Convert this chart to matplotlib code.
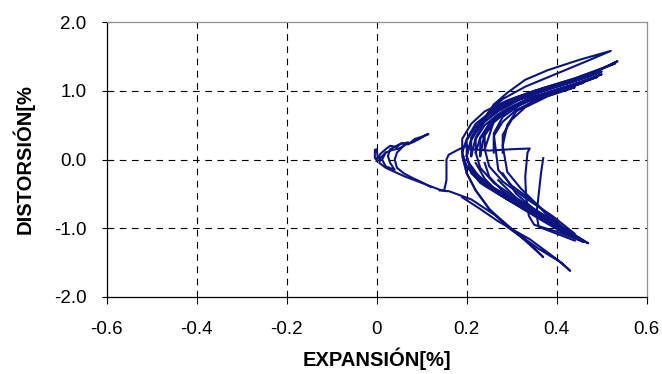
import matplotlib.pyplot as plt

# ciclos pequeños cerca del origen
s1_x = [0.0, -0.004, -0.004, 0.0, 0.002, 0.0]
s1_y = [0.0, 0.02, 0.14, 0.15, 0.05, -0.02]
s2_x = [0.0, 0.008, 0.02, 0.03, 0.045, 0.055, 0.07, 0.085, 0.10, 0.115, 0.11, 0.095, 0.08, 0.065, 0.05,
        0.035, 0.02, 0.008, 0.006, 0.02, 0.04, 0.06, 0.08, 0.10, 0.12, 0.14, 0.155]
s2_y = [-0.02, 0.08, 0.15, 0.20, 0.18, 0.24, 0.22, 0.30, 0.33, 0.37, 0.36, 0.30, 0.25, 0.22, 0.16,
        0.14, 0.10, 0.02, -0.05, -0.12, -0.18, -0.24, -0.29, -0.34, -0.39, -0.44, -0.46]
s3_x = [0.02, 0.012, 0.02, 0.04, 0.03, 0.025, 0.03, 0.05, 0.07, 0.06, 0.045, 0.04, 0.045, 0.06, 0.08,
        0.10, 0.12]
s3_y = [0.10, 0.0, -0.10, -0.15, -0.05, 0.05, 0.15, 0.22, 0.25, 0.20, 0.10, 0.0, -0.12, -0.20, -0.27,
        -0.33, -0.40]
s4_x = [0.15, 0.155, 0.155, 0.16, 0.18, 0.20]
s4_y = [-0.45, -0.30, 0.0, 0.07, 0.14, 0.20]

# ciclos grandes
c1_x = [0.22, 0.24, 0.26, 0.29, 0.33, 0.38, 0.45, 0.52, 0.47, 0.40, 0.33, 0.28, 0.25, 0.23, 0.21, 0.20,
        0.21, 0.24, 0.30, 0.36, 0.41, 0.46, 0.42, 0.36, 0.29, 0.24, 0.21]
c1_y = [0.40, 0.60, 0.80, 0.97, 1.16, 1.30, 1.45, 1.58, 1.44, 1.25, 1.06, 0.88, 0.70, 0.50, 0.30, 0.05,
        -0.20, -0.38, -0.62, -0.86, -1.05, -1.20, -1.06, -0.84, -0.58, -0.35, -0.10]
c2_x = [0.19, 0.19, 0.21, 0.24, 0.29, 0.35, 0.42, 0.48, 0.535, 0.50, 0.44, 0.37, 0.31, 0.26, 0.22, 0.20,
        0.19, 0.20, 0.23, 0.29, 0.35, 0.41, 0.47, 0.43, 0.36, 0.29, 0.23, 0.20]
c2_y = [0.10, 0.30, 0.52, 0.70, 0.86, 1.00, 1.12, 1.26, 1.43, 1.32, 1.18, 1.04, 0.90, 0.73, 0.52, 0.30,
        0.10, -0.10, -0.30, -0.52, -0.76, -0.98, -1.22, -1.08, -0.82, -0.58, -0.34, -0.10]
c3_x = [0.20, 0.20, 0.22, 0.25, 0.30, 0.36, 0.43, 0.50, 0.46, 0.39, 0.32, 0.27, 0.23, 0.21, 0.20, 0.21,
        0.24, 0.30, 0.37, 0.46, 0.41, 0.34, 0.27, 0.23, 0.21]
c3_y = [0.05, 0.28, 0.48, 0.66, 0.83, 0.98, 1.12, 1.28, 1.18, 1.04, 0.88, 0.70, 0.50, 0.28, 0.05, -0.15,
        -0.36, -0.58, -0.84, -1.18, -1.02, -0.76, -0.50, -0.30, -0.10]
c4_x = [0.22, 0.22, 0.24, 0.27, 0.32, 0.38, 0.44, 0.49, 0.45, 0.39, 0.33, 0.28, 0.25, 0.23, 0.22, 0.23,
        0.26, 0.31, 0.38, 0.45, 0.40, 0.33, 0.27, 0.24, 0.22]
c4_y = [0.10, 0.30, 0.50, 0.66, 0.82, 0.96, 1.08, 1.20, 1.12, 1.00, 0.86, 0.70, 0.52, 0.32, 0.10, -0.12,
        -0.34, -0.56, -0.84, -1.14, -0.98, -0.72, -0.48, -0.28, -0.05]
c5_x = [0.24, 0.24, 0.26, 0.29, 0.34, 0.40, 0.45, 0.50, 0.46, 0.40, 0.34, 0.29, 0.26, 0.25, 0.24, 0.25,
        0.28, 0.33, 0.39, 0.44, 0.39, 0.33, 0.28, 0.25, 0.24]
c5_y = [0.15, 0.35, 0.54, 0.70, 0.86, 1.00, 1.12, 1.24, 1.14, 1.02, 0.90, 0.74, 0.55, 0.35, 0.15, -0.10,
        -0.32, -0.56, -0.82, -1.08, -0.92, -0.68, -0.46, -0.25, -0.05]
c6_x = [0.26, 0.26, 0.28, 0.31, 0.36, 0.41, 0.46, 0.42, 0.37, 0.32, 0.28, 0.26, 0.27, 0.30, 0.35, 0.42,
        0.37, 0.31, 0.27]
c6_y = [0.10, 0.34, 0.55, 0.72, 0.88, 1.00, 1.12, 1.04, 0.94, 0.80, 0.62, 0.38, -0.15, -0.38, -0.62, -1.02,
        -0.84, -0.56, -0.30]
c7_x = [0.28, 0.28, 0.30, 0.33, 0.38, 0.44, 0.40, 0.35, 0.31, 0.29, 0.28, 0.29, 0.32, 0.36, 0.40, 0.36,
        0.31, 0.28]
c7_y = [0.10, 0.36, 0.58, 0.76, 0.92, 1.05, 0.98, 0.86, 0.70, 0.50, 0.20, -0.18, -0.42, -0.68, -0.96, -0.78,
        -0.50, -0.20]
c8_x = [0.21, 0.25, 0.30, 0.34, 0.335, 0.33, 0.332, 0.338, 0.35, 0.40, 0.46, 0.40, 0.33, 0.26, 0.22, 0.20]
c8_y = [0.15, 0.13, 0.15, 0.16, 0.10, -0.25, -0.55, -0.82, -0.95, -1.05, -1.20, -1.00, -0.72, -0.42, -0.20, 0.0]
c9_x = [0.37, 0.365, 0.36, 0.355, 0.36, 0.40, 0.44]
c9_y = [0.02, -0.20, -0.50, -0.80, -0.98, -1.08, -1.18]
c10_x = [0.14, 0.16, 0.21, 0.27, 0.32, 0.37, 0.34, 0.29, 0.25, 0.22, 0.20, 0.19]
c10_y = [-0.45, -0.46, -0.58, -0.84, -1.12, -1.42, -1.22, -0.98, -0.72, -0.45, -0.20, 0.10]
c11_x = [0.19, 0.23, 0.27, 0.34, 0.40, 0.43, 0.41, 0.36, 0.30, 0.25, 0.22, 0.20, 0.19]
c11_y = [-0.55, -0.72, -0.90, -1.16, -1.45, -1.62, -1.50, -1.30, -1.02, -0.72, -0.45, -0.20, 0.05]
c12_x = [0.21, 0.21, 0.23, 0.26, 0.31, 0.37, 0.44, 0.53, 0.48, 0.41, 0.34, 0.28, 0.24, 0.22, 0.21]
c12_y = [0.05, 0.32, 0.54, 0.72, 0.90, 1.04, 1.18, 1.40, 1.26, 1.10, 0.95, 0.78, 0.56, 0.32, 0.05]
c13_x = [0.23, 0.23, 0.25, 0.28, 0.33, 0.39, 0.44, 0.48, 0.44, 0.38, 0.32, 0.27, 0.24, 0.23]
c13_y = [0.05, 0.30, 0.50, 0.68, 0.84, 0.98, 1.08, 1.18, 1.08, 0.96, 0.82, 0.64, 0.40, 0.05]

ciclos = [(s1_x, s1_y), (s2_x, s2_y), (s3_x, s3_y), (s4_x, s4_y),
          (c1_x, c1_y), (c2_x, c2_y), (c3_x, c3_y), (c4_x, c4_y), (c5_x, c5_y),
          (c6_x, c6_y), (c7_x, c7_y), (c8_x, c8_y), (c9_x, c9_y), (c10_x, c10_y),
          (c11_x, c11_y), (c12_x, c12_y), (c13_x, c13_y)]

x_ticks = [-0.6, -0.4, -0.2, 0, 0.2, 0.4, 0.6]
x_labels = ['-0.6', '-0.4', '-0.2', '0', '0.2', '0.4', '0.6']
y_ticks = [-2.0, -1.0, 0.0, 1.0, 2.0]
y_labels = ['-2.0', '-1.0', '0.0', '1.0', '2.0']

plt.rcParams['font.family'] = ['Liberation Sans', 'DejaVu Sans']

fig = plt.figure(figsize=(6.62, 3.74), dpi=100)
ax = fig.add_axes([0.161, 0.206, 0.816, 0.735])

for cx, cy in ciclos:
    ax.plot(cx, cy, color='#0c1480', linewidth=1.5, solid_joinstyle='round')

ax.set_xlim(-0.6, 0.6)
ax.set_ylim(-2.0, 2.0)
ax.set_xticks(x_ticks)
ax.set_xticklabels(x_labels)
ax.set_yticks(y_ticks)
ax.set_yticklabels(y_labels)
ax.tick_params(labelsize=13.5, width=0.8, colors='black')
ax.tick_params(axis='x', direction='out', length=5, pad=12)
ax.tick_params(axis='y', direction='inout', length=7, pad=11)

# rejilla discontinua negra (sin los bordes)
for gx in [-0.4, -0.2, 0, 0.2, 0.4]:
    ax.axvline(gx, color='black', linestyle=(0, (6, 5)), linewidth=0.8, zorder=0)
for gy in [-1.0, 0.0, 1.0]:
    ax.axhline(gy, color='black', linestyle=(0, (6, 5)), linewidth=0.8, zorder=0)

ax.spines['left'].set_color('black')
ax.spines['bottom'].set_color('black')
ax.spines['top'].set_color('#909090')
ax.spines['right'].set_color('#909090')
for s in ax.spines.values():
    s.set_linewidth(0.9)

ax.set_xlabel('EXPANSIÓN[%]', fontsize=14.5, fontweight='bold', labelpad=7)
ax.set_ylabel('DISTORSIÓN[%', fontsize=14.5, fontweight='bold', labelpad=14)

fig.savefig('out.png', dpi=100)
